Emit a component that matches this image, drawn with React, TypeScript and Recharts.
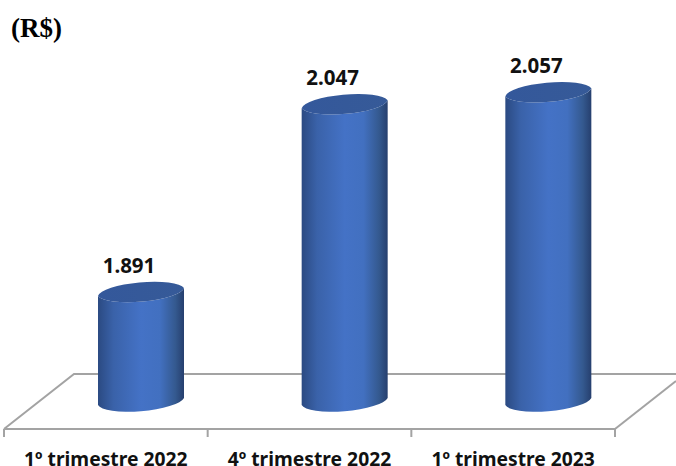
import { Bar, BarChart, LabelList, XAxis, YAxis, usePlotArea } from "recharts";

const categories = ["1º trimestre 2022", "4º trimestre 2022", "1º trimestre 2023"];
const values = [1891, 2047, 2057];

const chartData = categories.map((name, i) => ({ name, value: values[i] }));

const DEPTH_X = 35;
const DEPTH_Y = -27.5;
const FLOOR_STROKE = "#a3a3a3";
const FONT = '"Noto Sans", sans-serif';

// floor of the 3D plot, drawn behind the bars
function Floor() {
  const plot = usePlotArea();
  if (!plot) return null;
  const left = plot.x;
  const right = plot.x + plot.width;
  const bottom = plot.y + plot.height;
  const backY = bottom - 55;
  const band = plot.width / categories.length;
  return (
    <g stroke={FLOOR_STROKE} strokeWidth={2} fill="none">
      <path d={`M${left} ${bottom} L${left + 70} ${backY} L676 ${backY}`} />
      <path d={`M${right} ${bottom} L676 ${bottom - 48}`} />
      {[0, 1, 2, 3].map((i) => (
        <line key={i} x1={left + i * band} x2={left + i * band} y1={bottom} y2={bottom + 8} />
      ))}
    </g>
  );
}

// cylinder shifted back onto the floor, top face tilted like the original
function Cylinder(props: any) {
  const { x, y, width, height } = props;
  const l = x + DEPTH_X;
  const r = l + width;
  const top = y + DEPTH_Y;
  const base = top + height;
  const arc = `A${width / 2 + 0.5} 11 -5 0 `;
  return (
    <g>
      <path
        d={`M${l} ${top + 4} L${l} ${base + 3.5} ${arc}0 ${r} ${base - 3.5} L${r} ${top - 4} ${arc}1 ${l} ${top + 4} Z`}
        fill="url(#cylinderSide)"
      />
      <path
        d={`M${l} ${top + 4} ${arc}1 ${r} ${top - 4} ${arc}1 ${l} ${top + 4} Z`}
        fill="url(#cylinderTop)"
      />
    </g>
  );
}

function ValueLabel(props: any) {
  const { x, y, width, value } = props;
  return (
    <text
      x={x + width / 2 + 23}
      y={y + DEPTH_Y - 27}
      textAnchor="middle"
      dominantBaseline="central"
      fontFamily={FONT}
      fontWeight={700}
      fontSize={20.5}
      fill="#111"
    >
      {value.toLocaleString("pt-BR")}
    </text>
  );
}

export default function App() {
  return (
    <div style={{ position: "fixed", left: 0, top: 0, width: 676, height: 466, background: "#fff" }}>
      <div
        style={{
          position: "absolute",
          left: 11,
          top: 14,
          fontFamily: '"Liberation Serif", serif',
          fontWeight: 700,
          fontSize: 27,
          lineHeight: "28px",
          color: "#000",
        }}
      >
        (R$)
      </div>
      <BarChart
        width={676}
        height={466}
        data={chartData}
        margin={{ top: 68, right: 61, bottom: 0, left: 4 }}
        barSize={86}
        style={{ overflow: "visible" }}
      >
        <defs>
          <linearGradient id="cylinderSide" x1="0" y1="0" x2="1" y2="0">
            <stop offset="0" stopColor="#2b4a82" />
            <stop offset="0.18" stopColor="#3a62a9" />
            <stop offset="0.5" stopColor="#4472c6" />
            <stop offset="0.72" stopColor="#4270c0" />
            <stop offset="0.9" stopColor="#34598f" />
            <stop offset="1" stopColor="#263f6e" />
          </linearGradient>
          <linearGradient id="cylinderTop" x1="0" y1="0" x2="1" y2="0">
            <stop offset="0" stopColor="#34589b" />
            <stop offset="1" stopColor="#365a98" />
          </linearGradient>
        </defs>
        <Floor />
        <XAxis
          dataKey="name"
          height={37}
          interval={0}
          tickLine={false}
          axisLine={{ stroke: FLOOR_STROKE, strokeWidth: 2 }}
          tickMargin={17}
          tick={{ fontFamily: FONT, fontWeight: 700, fontSize: 19.3, fill: "#111" }}
        />
        <YAxis hide domain={[1800, 2100]} />
        <Bar dataKey="value" shape={<Cylinder />} isAnimationActive={false}>
          <LabelList dataKey="value" content={<ValueLabel />} />
        </Bar>
      </BarChart>
    </div>
  );
}
